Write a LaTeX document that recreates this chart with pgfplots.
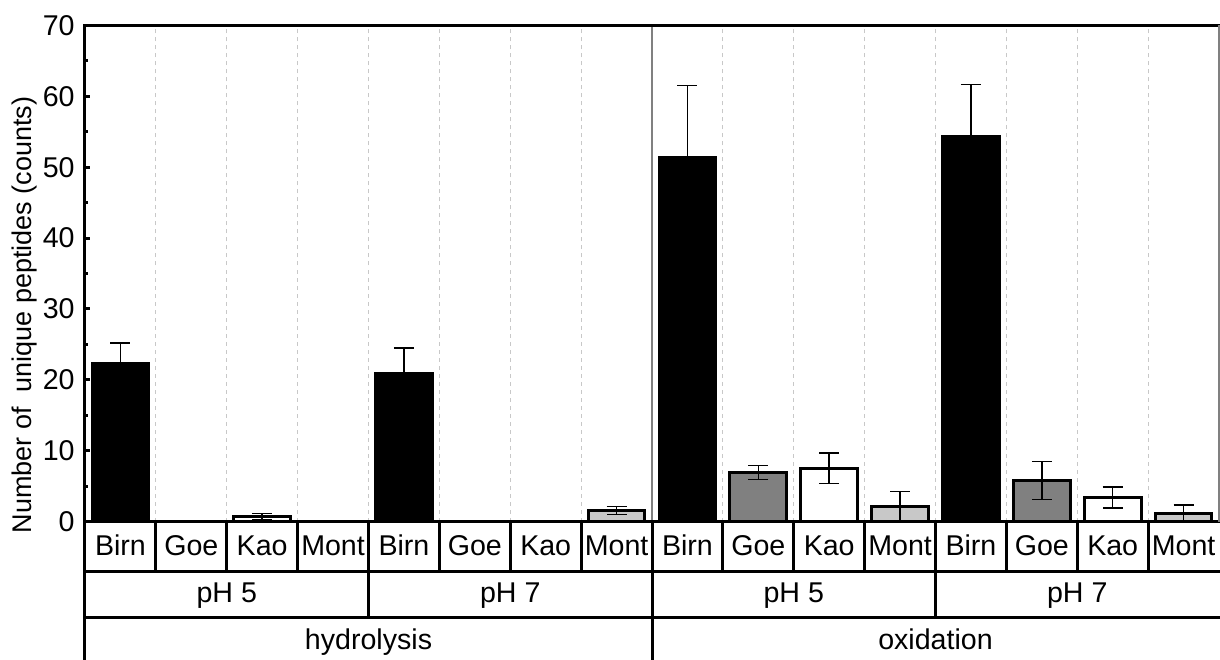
\documentclass[border=0pt]{standalone}
\usepackage{fontspec}
\setmainfont{Liberation Sans}
\usepackage{pgfplots}
\pgfplotsset{compat=1.18}
\definecolor{goe}{RGB}{128,128,128}
\definecolor{mont}{RGB}{200,200,200}
\definecolor{gridc}{RGB}{200,200,200}
\newcommand\tf{\fontsize{14.3pt}{16pt}\selectfont}
\def\cw{35.4375pt}
\begin{document}
\begin{tikzpicture}
\useasboundingbox (-42.5pt,-68.75pt) rectangle (567.5pt,260.75pt);
\begin{axis}[
  at={(0,0)}, anchor=south west,
  scale only axis, width=567pt, height=248pt,
  xmin=0, xmax=16, ymin=0, ymax=70,
  axis x line*=bottom, axis y line*=left,
  axis line style={draw=none},
  ybar, bar width=0.8,
  xtick={1,2,3,4,5,6,7,9,10,11,12,13,14,15}, xticklabels={},
  xmajorgrids,
  major x grid style={gridc, dash pattern=on 2pt off 2pt, line width=0.5pt},
  xtick style={draw=none},
  ytick={0,10,...,70}, minor y tick num=1,
  tick align=inside,
  major tick length=2.5pt, minor tick length=1.5pt,
  ytick style={line width=1.5pt, black},
  yticklabel style={font=\tf, inner sep=0pt, xshift=-5pt},
  /pgf/number format/assume math mode=true,
  ylabel={Number of\ \ unique peptides (counts)},
  every axis y label/.style={at={(rel axis cs:0,0.4163)}, xshift=-30pt,
    rotate=90, anchor=center, font=\fontsize{13.5pt}{16pt}\selectfont},
  clip=false,
  error bars/y dir=both, error bars/y explicit,
  error bars/error bar style={line width=0.75pt, black},
  error bars/error mark options={rotate=90, line width=0.75pt, mark size=5pt, black},
]
\draw[gray, line width=0.6pt] (axis cs:8,0) -- (axis cs:8,70);
% Birn
\addplot[fill=black, draw=black, line width=1.5pt, bar shift=0pt] coordinates {
  (0.5,22.3) +- (0,2.9) (4.5,20.9) +- (0,3.6) (8.5,51.4) +- (0,10.1) (12.5,54.4) +- (0,7.3)};
% Goe
\addplot[fill=goe, draw=black, line width=1.5pt, bar shift=0pt] coordinates {
  (1.5,0) +- (0,0) (5.5,0) +- (0,0) (9.5,6.9) +- (0,1.0) (13.5,5.8) +- (0,2.7)};
% Kao
\addplot[fill=white, draw=black, line width=1.5pt, bar shift=0pt] coordinates {
  (2.5,0.65) +- (0,0.45) (6.5,0) +- (0,0) (10.5,7.5) +- (0,2.15) (14.5,3.4) +- (0,1.5)};
% Mont
\addplot[fill=mont, draw=black, line width=1.5pt, bar shift=0pt] coordinates {
  (3.5,0) +- (0,0) (7.5,1.55) +- (0,0.55) (11.5,2.15) +- (0,2.05) (15.5,1.2) +- (0,1.1)};
\end{axis}
% category table under the axis
\draw[line width=1.5pt] (0,0) -- (567.5pt,0);
\draw[line width=1.5pt] (0,-24.75pt) -- (567.5pt,-24.75pt);
\draw[line width=1.5pt] (0,-47.9pt) -- (567.5pt,-47.9pt);
\foreach \k in {1,...,15} \draw[line width=1.5pt] (\k*\cw,0) -- (\k*\cw,-24.75pt);
\foreach \k in {4,8,12} \draw[line width=1.5pt] (\k*\cw,-24.75pt) -- (\k*\cw,-47.9pt);
\draw[line width=1.5pt] (8*\cw,-47.9pt) -- (8*\cw,-70pt);
\draw[line width=1.5pt] (0,-70pt) -- (0,248pt) -- (567.5pt,248pt);
\draw[gray, line width=0.6pt] (567pt,0) -- (567pt,248pt);
\foreach \g in {0,4,8,12}
  \foreach \i/\n in {0/Birn,1/Goe,2/Kao,3/Mont}
    \node[font=\tf, anchor=base, inner sep=0pt] at ({(\g+\i+0.5)*\cw},-16.75pt) {\n};
\foreach \g/\n in {0/pH 5,4/pH 7,8/pH 5,12/pH 7}
  \node[font=\tf, anchor=base, inner sep=0pt] at ({(\g+2)*\cw},-40.3pt) {\n};
\node[font=\tf, anchor=base, inner sep=0pt] at (4*\cw,-63.75pt) {hydrolysis};
\node[font=\tf, anchor=base, inner sep=0pt] at (12*\cw,-63.75pt) {oxidation};
\end{tikzpicture}
\end{document}
